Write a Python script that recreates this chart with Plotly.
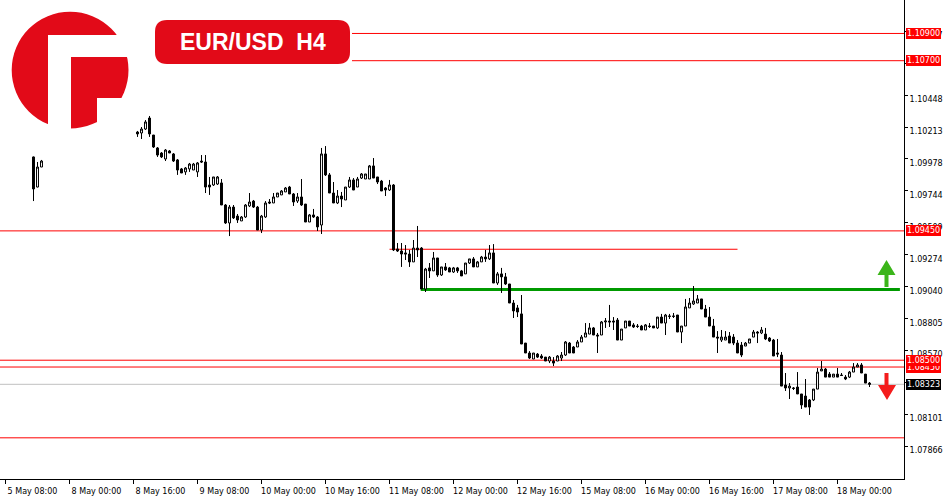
import plotly.graph_objects as go

# ---------------- data ----------------
# bar slot = position of each H1 bar on the time axis (bars hidden behind the logo are absent)
bar_slots = [7, 8, 9] + list(range(33, 217))

opens = [1.09993, 1.09772, 1.09919,
    1.10176, 1.10169, 1.10198, 1.10279, 1.10154, 1.10059, 1.10022, 1.09978, 1.10037, 1.10015,
    1.09971, 1.09905, 1.09883, 1.09905, 1.09897, 1.09883, 1.09963, 1.09956, 1.09787, 1.09787,
    1.09794, 1.09802, 1.09640, 1.09508, 1.09625, 1.09559, 1.09523, 1.09552, 1.09633, 1.09669,
    1.09625, 1.09456, 1.09552, 1.09662, 1.09655, 1.09699, 1.09714, 1.09736, 1.09772, 1.09721,
    1.09669, 1.09699, 1.09647, 1.09515, 1.09567, 1.09552, 1.09493, 1.10015, 1.09861, 1.09728,
    1.09655, 1.09706, 1.09677, 1.09772, 1.09824, 1.09772, 1.09838, 1.09831, 1.09831, 1.09927,
    1.09846, 1.09816, 1.09765, 1.09750, 1.09787, 1.09317, 1.09302, 1.09288, 1.09280, 1.09222,
    1.09324, 1.09324, 1.09023, 1.09178, 1.09156, 1.09251, 1.09126, 1.09185, 1.09178, 1.09148,
    1.09178, 1.09156, 1.09134, 1.09214, 1.09244, 1.09185, 1.09222, 1.09258, 1.09244, 1.09288,
    1.09067, 1.09134, 1.09112, 1.09060, 1.08920, 1.08884, 1.08840, 1.08626, 1.08553, 1.08509,
    1.08545, 1.08531, 1.08523, 1.08494, 1.08494, 1.08494, 1.08516, 1.08538, 1.08626, 1.08597,
    1.08597, 1.08634, 1.08670, 1.08692, 1.08737, 1.08685, 1.08685, 1.08781, 1.08788, 1.08788,
    1.08795, 1.08648, 1.08737, 1.08788, 1.08759, 1.08751, 1.08751, 1.08722, 1.08751, 1.08751,
    1.08737, 1.08817, 1.08773, 1.08825, 1.08825, 1.08832, 1.08707, 1.08751, 1.08884, 1.08913,
    1.08920, 1.08950, 1.08876, 1.08817, 1.08751, 1.08670, 1.08648, 1.08648, 1.08678, 1.08670,
    1.08626, 1.08611, 1.08604, 1.08626, 1.08670, 1.08707, 1.08700, 1.08692, 1.08663, 1.08648,
    1.08553, 1.08538, 1.08318, 1.08296, 1.08296, 1.08303, 1.08252, 1.08237, 1.08208, 1.08208,
    1.08288, 1.08421, 1.08435, 1.08398, 1.08376, 1.08398, 1.08391, 1.08376, 1.08376, 1.08413,
    1.08450, 1.08465, 1.08398, 1.08332]

highs = [1.09996, 1.09956, 1.09971,
    1.10184, 1.10213, 1.10264, 1.10294, 1.10154, 1.10066, 1.10029, 1.10051, 1.10044, 1.10022,
    1.09978, 1.09912, 1.09919, 1.09949, 1.09949, 1.09956, 1.10007, 1.10007, 1.09846, 1.09846,
    1.09853, 1.09831, 1.09647, 1.09640, 1.09640, 1.09574, 1.09559, 1.09647, 1.09728, 1.09677,
    1.09633, 1.09567, 1.09669, 1.09684, 1.09728, 1.09728, 1.09750, 1.09772, 1.09780, 1.09728,
    1.09728, 1.09831, 1.09647, 1.09574, 1.09611, 1.09559, 1.10059, 1.10073, 1.09875, 1.09809,
    1.09750, 1.09736, 1.09772, 1.09846, 1.09838, 1.09846, 1.09875, 1.09868, 1.09934, 1.09985,
    1.09846, 1.09824, 1.09772, 1.09824, 1.09794, 1.09361, 1.09361, 1.09346, 1.09310, 1.09383,
    1.09486, 1.09331, 1.09178, 1.09214, 1.09295, 1.09251, 1.09185, 1.09214, 1.09185, 1.09185,
    1.09185, 1.09163, 1.09214, 1.09244, 1.09258, 1.09229, 1.09266, 1.09310, 1.09346, 1.09353,
    1.09148, 1.09178, 1.09141, 1.09060, 1.08942, 1.08906, 1.08979, 1.08626, 1.08567, 1.08553,
    1.08553, 1.08545, 1.08523, 1.08531, 1.08523, 1.08538, 1.08560, 1.08641, 1.08634, 1.08604,
    1.08648, 1.08685, 1.08773, 1.08773, 1.08744, 1.08700, 1.08788, 1.08810, 1.08906, 1.08817,
    1.08810, 1.08729, 1.08788, 1.08788, 1.08773, 1.08766, 1.08759, 1.08766, 1.08773, 1.08751,
    1.08817, 1.08840, 1.08840, 1.08840, 1.08847, 1.08832, 1.08751, 1.08950, 1.08957, 1.09045,
    1.08979, 1.08950, 1.08906, 1.08891, 1.08803, 1.08714, 1.08722, 1.08714, 1.08707, 1.08692,
    1.08648, 1.08634, 1.08634, 1.08656, 1.08722, 1.08714, 1.08744, 1.08737, 1.08670, 1.08656,
    1.08656, 1.08560, 1.08406, 1.08332, 1.08303, 1.08413, 1.08252, 1.08362, 1.08215, 1.08288,
    1.08443, 1.08494, 1.08443, 1.08413, 1.08398, 1.08443, 1.08406, 1.08391, 1.08421, 1.08479,
    1.08479, 1.08479, 1.08398, 1.08340]

lows = [1.09669, 1.09770, 1.09919,
    1.10140, 1.10125, 1.10191, 1.10140, 1.10059, 1.09993, 1.09985, 1.09963, 1.10022, 1.09956,
    1.09861, 1.09875, 1.09861, 1.09883, 1.09897, 1.09846, 1.09949, 1.09728, 1.09714, 1.09780,
    1.09787, 1.09640, 1.09501, 1.09412, 1.09537, 1.09508, 1.09523, 1.09545, 1.09625, 1.09618,
    1.09456, 1.09434, 1.09545, 1.09647, 1.09655, 1.09699, 1.09714, 1.09736, 1.09721, 1.09633,
    1.09655, 1.09633, 1.09515, 1.09515, 1.09545, 1.09449, 1.09427, 1.09853, 1.09728, 1.09655,
    1.09647, 1.09625, 1.09677, 1.09765, 1.09750, 1.09772, 1.09831, 1.09831, 1.09831, 1.09838,
    1.09794, 1.09743, 1.09706, 1.09743, 1.09302, 1.09295, 1.09185, 1.09236, 1.09185, 1.09222,
    1.09258, 1.09023, 1.09001, 1.09104, 1.09156, 1.09112, 1.09119, 1.09156, 1.09148, 1.09141,
    1.09141, 1.09119, 1.09134, 1.09207, 1.09185, 1.09185, 1.09222, 1.09222, 1.09236, 1.09067,
    1.09053, 1.08994, 1.09053, 1.08920, 1.08810, 1.08817, 1.08619, 1.08553, 1.08509, 1.08509,
    1.08516, 1.08509, 1.08494, 1.08479, 1.08457, 1.08494, 1.08494, 1.08531, 1.08553, 1.08553,
    1.08597, 1.08634, 1.08670, 1.08692, 1.08685, 1.08553, 1.08685, 1.08737, 1.08744, 1.08722,
    1.08648, 1.08648, 1.08737, 1.08751, 1.08737, 1.08737, 1.08722, 1.08722, 1.08737, 1.08737,
    1.08729, 1.08773, 1.08685, 1.08803, 1.08810, 1.08707, 1.08626, 1.08751, 1.08884, 1.08906,
    1.08920, 1.08876, 1.08817, 1.08751, 1.08670, 1.08553, 1.08634, 1.08648, 1.08626, 1.08611,
    1.08553, 1.08523, 1.08604, 1.08626, 1.08670, 1.08626, 1.08692, 1.08648, 1.08634, 1.08531,
    1.08523, 1.08310, 1.08274, 1.08215, 1.08281, 1.08252, 1.08142, 1.08156, 1.08098, 1.08200,
    1.08288, 1.08421, 1.08376, 1.08376, 1.08376, 1.08376, 1.08384, 1.08354, 1.08369, 1.08413,
    1.08450, 1.08406, 1.08332, 1.08303]

closes = [1.09758, 1.09919, 1.09963,
    1.10162, 1.10198, 1.10250, 1.10162, 1.10066, 1.10007, 1.09993, 1.10044, 1.10022, 1.09963,
    1.09897, 1.09875, 1.09912, 1.09941, 1.09941, 1.09949, 1.09956, 1.09772, 1.09772, 1.09846,
    1.09846, 1.09640, 1.09508, 1.09625, 1.09545, 1.09530, 1.09552, 1.09640, 1.09662, 1.09625,
    1.09456, 1.09559, 1.09655, 1.09655, 1.09699, 1.09728, 1.09743, 1.09765, 1.09721, 1.09662,
    1.09699, 1.09640, 1.09515, 1.09567, 1.09552, 1.09479, 1.10015, 1.09861, 1.09728, 1.09655,
    1.09706, 1.09684, 1.09772, 1.09824, 1.09750, 1.09831, 1.09868, 1.09868, 1.09927, 1.09838,
    1.09809, 1.09743, 1.09750, 1.09787, 1.09310, 1.09302, 1.09280, 1.09280, 1.09222, 1.09324,
    1.09310, 1.09023, 1.09170, 1.09156, 1.09251, 1.09126, 1.09185, 1.09163, 1.09148, 1.09178,
    1.09156, 1.09119, 1.09214, 1.09244, 1.09185, 1.09222, 1.09258, 1.09244, 1.09288, 1.09067,
    1.09134, 1.09112, 1.09060, 1.08920, 1.08862, 1.08854, 1.08619, 1.08553, 1.08516, 1.08553,
    1.08523, 1.08516, 1.08494, 1.08523, 1.08479, 1.08531, 1.08538, 1.08634, 1.08553, 1.08553,
    1.08634, 1.08670, 1.08700, 1.08737, 1.08685, 1.08678, 1.08781, 1.08788, 1.08781, 1.08781,
    1.08648, 1.08729, 1.08788, 1.08751, 1.08744, 1.08748, 1.08722, 1.08759, 1.08748, 1.08737,
    1.08817, 1.08773, 1.08832, 1.08822, 1.08822, 1.08707, 1.08751, 1.08891, 1.08920, 1.08935,
    1.08950, 1.08876, 1.08817, 1.08751, 1.08670, 1.08663, 1.08670, 1.08670, 1.08626, 1.08626,
    1.08553, 1.08538, 1.08626, 1.08656, 1.08707, 1.08700, 1.08722, 1.08656, 1.08641, 1.08531,
    1.08545, 1.08310, 1.08296, 1.08310, 1.08293, 1.08252, 1.08171, 1.08156, 1.08156, 1.08288,
    1.08413, 1.08435, 1.08376, 1.08376, 1.08398, 1.08376, 1.08388, 1.08362, 1.08413, 1.08450,
    1.08465, 1.08406, 1.08332, 1.08323]

time_tick_slots = [0, 16, 32, 48, 64, 80, 96, 112, 128, 144, 160, 176, 192, 208]
time_tick_labels = ["5 May 08:00", "8 May 00:00", "8 May 16:00", "9 May 08:00",
                    "10 May 00:00", "10 May 16:00", "11 May 08:00", "12 May 00:00",
                    "12 May 16:00", "15 May 08:00", "16 May 00:00", "16 May 16:00",
                    "17 May 08:00", "18 May 00:00"]

price_ticks = [1.10917, 1.10683, 1.10448, 1.10213, 1.09978, 1.09744, 1.09509,
               1.09274, 1.09040, 1.08805, 1.08570, 1.08335, 1.08101, 1.07866]
# tick labels that sit fully under a price box are not shown
hidden_ticks = [1.10683, 1.08335]

red_levels = [1.10900, 1.10700, 1.09450, 1.08500, 1.08450, 1.07930]
labelled_levels = [1.10900, 1.10700, 1.09450, 1.08450, 1.08500]
resistance_level = 1.09315
resistance_span = [96.0, 183.0]
support_level = 1.09020
support_span = [103.8, 223.6]
last_price = 1.08323

symbol_title = "EUR/USD&nbsp;&nbsp;H4"

# ---------------- layout helpers (pixel -> paper) ----------------
PL, PT, PR, PB = 0, 0, 904, 479
def px(x):
    return (x - PL) / (PR - PL)
def py(y):
    return 1 - (y - PT) / (PB - PT)

FONT = "DejaVu Sans, Tahoma, sans-serif"
RED = "#ff0000"
LOGO_RED = "#e20a18"

fig = go.Figure()
fig.add_trace(go.Candlestick(
    x=bar_slots, open=opens, high=highs, low=lows, close=closes,
    increasing=dict(line=dict(color="black", width=1), fillcolor="white"),
    decreasing=dict(line=dict(color="black", width=1), fillcolor="black"),
    whiskerwidth=0, showlegend=False, hoverinfo="skip",
))

shapes = []
for lv in red_levels:
    shapes.append(dict(type="line", xref="paper", yref="y", x0=0, x1=1, y0=lv, y1=lv,
                       line=dict(color=RED, width=1), layer="below"))
shapes.append(dict(type="line", xref="paper", yref="y", x0=0, x1=1, y0=last_price, y1=last_price,
                   line=dict(color="#c0c0c0", width=1), layer="below"))
shapes.append(dict(type="line", xref="x", yref="y", x0=resistance_span[0], x1=resistance_span[1],
                   y0=resistance_level, y1=resistance_level, line=dict(color=RED, width=1), layer="below"))
shapes.append(dict(type="line", xref="x", yref="y", x0=support_span[0], x1=support_span[1],
                   y0=support_level, y1=support_level, line=dict(color="#009a00", width=3), layer="below"))

def rect(x0, y0, x1, y1, color):
    return dict(type="rect", xref="paper", yref="paper", x0=px(x0), x1=px(x1), y0=py(y1), y1=py(y0),
                fillcolor=color, line=dict(width=0), layer="above")

shapes.append(rect(0, 0, 352, 74, "white"))
shapes.append(dict(type="circle", xref="paper", yref="paper", x0=px(11.7), x1=px(128.5),
                   y0=py(128.5), y1=py(11.7), fillcolor=LOGO_RED, line=dict(width=0), layer="above"))
shapes.append(rect(48, 35, 71, 135, "white"))
shapes.append(rect(48, 35, 135, 57, "white"))
shapes.append(rect(117, 0, 135, 35, "white"))
shapes.append(rect(97, 98, 135, 135, "white"))

def rounded_box(x0, y0, x1, y1, r):
    pts = [
        f"M {px(x0 + r)},{py(y0)}",
        f"L {px(x1 - r)},{py(y0)}",
        f"Q {px(x1)},{py(y0)} {px(x1)},{py(y0 + r)}",
        f"L {px(x1)},{py(y1 - r)}",
        f"Q {px(x1)},{py(y1)} {px(x1 - r)},{py(y1)}",
        f"L {px(x0 + r)},{py(y1)}",
        f"Q {px(x0)},{py(y1)} {px(x0)},{py(y1 - r)}",
        f"L {px(x0)},{py(y0 + r)}",
        f"Q {px(x0)},{py(y0)} {px(x0 + r)},{py(y0)} Z",
    ]
    return " ".join(pts)

shapes.append(dict(type="path", xref="paper", yref="paper", path=rounded_box(155, 20, 350, 64, 12),
                   fillcolor=LOGO_RED, line=dict(width=0), layer="above"))

def poly(points, color):
    d = "M " + " L ".join(f"{px(x)},{py(y)}" for x, y in points) + " Z"
    return dict(type="path", xref="paper", yref="paper", path=d, fillcolor=color,
                line=dict(width=0), layer="above")

shapes.append(poly([(886.5, 260), (895.5, 275), (888.5, 275), (888.5, 287), (884.5, 287),
                    (884.5, 275), (877.5, 275)], "#3bb51a"))
shapes.append(poly([(884.5, 373), (888.5, 373), (888.5, 385), (896, 385), (887, 400),
                    (878, 385), (884.5, 385)], "#f41c1c"))

annotations = []
for lv in labelled_levels:
    annotations.append(dict(xref="paper", yref="y", x=1, y=lv, xanchor="left", yanchor="middle",
                            xshift=2, text=f"{lv:.5f}", showarrow=False, bgcolor=RED,
                            font=dict(family=FONT, size=8, color="white"),
                            borderpad=1, borderwidth=0))
annotations.append(dict(xref="paper", yref="y", x=1, y=last_price, xanchor="left", yanchor="middle",
                        xshift=2, text=f"{last_price:.5f}", showarrow=False, bgcolor="black",
                        font=dict(family=FONT, size=8, color="white"),
                        borderpad=1, borderwidth=0))
annotations.append(dict(xref="paper", yref="paper", x=px(252.5), y=py(42.5), xanchor="center",
                        yanchor="middle", text=symbol_title, showarrow=False,
                        font=dict(family="Liberation Sans, Arial, sans-serif", size=23,
                                  color="white", weight="bold")))

y_top = 1.111458
y_bot = 1.076275

fig.update_layout(
    width=950, height=500,
    margin=dict(l=PL, r=950 - PR, t=PT, b=500 - PB),
    paper_bgcolor="white", plot_bgcolor="white",
    showlegend=False,
    shapes=shapes, annotations=annotations,
    xaxis=dict(range=[(0 - 5.5) / 4, (PR - 5.5) / 4], rangeslider=dict(visible=False),
               tickmode="array", tickvals=time_tick_slots, ticktext=time_tick_labels,
               ticks="outside", ticklen=4, tickcolor="black", tickwidth=1,
               showline=True, linecolor="black", linewidth=1, mirror=False,
               showgrid=False, zeroline=False, ticklabelshift=27,
               tickfont=dict(family=FONT, size=8, color="black")),
    yaxis=dict(range=[y_bot, y_top], side="right",
               tickmode="array", tickvals=price_ticks,
               ticktext=["" if v in hidden_ticks else f"{v:.5f}" for v in price_ticks],
               ticks="outside", ticklen=3, tickcolor="black", tickwidth=1,
               showline=True, linecolor="black", linewidth=1,
               showgrid=False, zeroline=False, ticklabelshift=4,
               tickfont=dict(family=FONT, size=8, color="black")),
)

fig.write_html("out.html", config={"displayModeBar": False},
               post_script="document.body.style.margin='0px';document.body.style.overflow='hidden';")
